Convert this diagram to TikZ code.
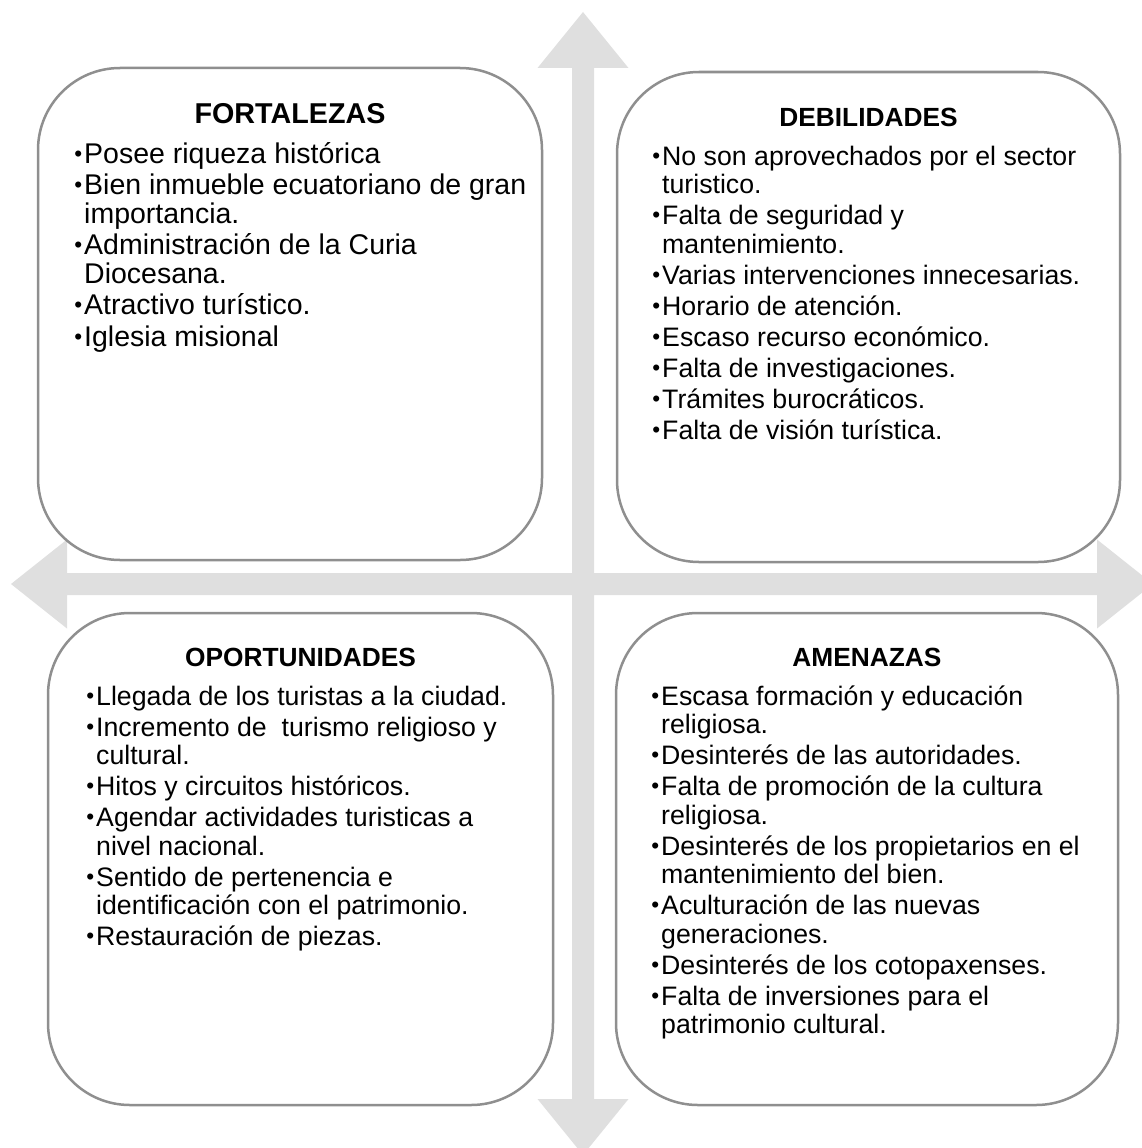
\documentclass[tikz,border=0pt]{standalone}
\usepackage{fontspec}
\setmainfont{Liberation Sans}
\definecolor{arrowgray}{HTML}{DFDFDF}
\definecolor{boxgray}{HTML}{8F8F8F}
\newcommand\smallbullet{{\fontsize{22.5}{22.5}\selectfont\raisebox{1.6pt}{\textbullet}}}
\newcommand\bitem[1]{\par\noindent\llap{\smallbullet\hspace{2pt}}#1}
\newcommand\itemlist[1]{\begin{minipage}[t]{470pt}\setlength{\parskip}{2.5pt}\setlength{\parindent}{0pt}#1\end{minipage}}
\begin{document}
\begin{tikzpicture}[x=1pt,y=-1pt,
  box/.style={draw=boxgray, line width=2.5pt, fill=white, rounded corners=82pt, inner sep=0pt},
  ttl/.style={anchor=base, inner sep=0pt, font=\fontsize{26.3}{28.5}\selectfont\bfseries},
  lst/.style={anchor=base west, inner sep=0pt, font=\fontsize{26.7}{28.5}\selectfont},
  bigttl/.style={ttl, font=\fontsize{28.7}{28.5}\selectfont\bfseries},
  biglst/.style={lst, font=\fontsize{28.5}{28.5}\selectfont}]
\useasboundingbox (0,0) rectangle (1142,1148);
\clip (0,0) rectangle (1142,1148);
% four-headed cross arrow
\fill[arrowgray] (583,12) -- (628.5,68) -- (594,68) -- (594,573) -- (1097,573) -- (1097,539.5)
  -- (1153,584) -- (1097,628.5) -- (1097,595) -- (594,595) -- (594,1099) -- (628.5,1099)
  -- (583,1155) -- (537.5,1099) -- (572,1099) -- (572,595) -- (67,595) -- (67,628.5)
  -- (11,584) -- (67,539.5) -- (67,573) -- (572,573) -- (572,68) -- (537.5,68) -- cycle;
% boxes
\node[box, minimum width=504pt, minimum height=492pt] (fo) at (290,314) {};
\node[box, minimum width=503pt, minimum height=490pt] (de) at (868.5,317) {};
\node[box, minimum width=505pt, minimum height=492pt] (op) at (300.5,859) {};
\node[box, minimum width=502pt, minimum height=492pt] (am) at (867,859) {};
% titles
\node[bigttl] (fot) at (290,123) {FORTALEZAS};
\node[ttl] (det) at (868.5,126) {DEBILIDADES};
\node[ttl] (opt) at (300.5,666) {OPORTUNIDADES};
\node[ttl] (amt) at (867,666) {AMENAZAS};
% lists
\node[biglst] (fol) at (84,163) {\itemlist{%
\setlength{\parskip}{3pt}%
\bitem{Posee riqueza histórica}
\bitem{Bien inmueble ecuatoriano de gran\\importancia.}
\bitem{Administración de la Curia\\Diocesana.}
\bitem{Atractivo turístico.}
\bitem{Iglesia misional}}};
\node[lst] (del) at (662,165) {\itemlist{%
\bitem{No son aprovechados por el sector\\turistico.}
\bitem{Falta de seguridad y\\mantenimiento.}
\bitem{Varias intervenciones innecesarias.}
\bitem{Horario de atención.}
\bitem{Escaso recurso económico.}
\bitem{Falta de investigaciones.}
\bitem{Trámites burocráticos.}
\bitem{Falta de visión turística.}}};
\node[lst] (opl) at (96,705) {\itemlist{%
\bitem{Llegada de los turistas a la ciudad.}
\bitem{Incremento de\ \ turismo religioso y\\cultural.}
\bitem{Hitos y circuitos históricos.}
\bitem{Agendar actividades turisticas a\\nivel nacional.}
\bitem{Sentido de pertenencia e\\identificación con el patrimonio.}
\bitem{Restauración de piezas.}}};
\node[lst] (aml) at (661,705) {\itemlist{%
\bitem{Escasa formación y educación\\religiosa.}
\bitem{Desinterés de las autoridades.}
\bitem{Falta de promoción de la cultura\\religiosa.}
\bitem{Desinterés de los propietarios en el\\mantenimiento del bien.}
\bitem{Aculturación de las nuevas\\generaciones.}
\bitem{Desinterés de los cotopaxenses.}
\bitem{Falta de inversiones para el\\patrimonio cultural.}}};
\end{tikzpicture}
\end{document}
